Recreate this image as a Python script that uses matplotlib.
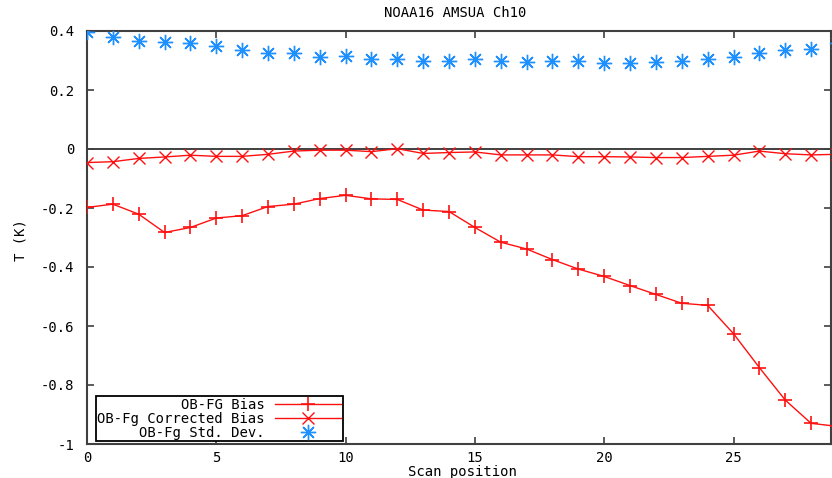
import numpy as np
import matplotlib
matplotlib.use("Agg")
import matplotlib.pyplot as plt

# Scan positions and the three series
scan_pos = list(range(30))
ob_fg_bias = [-0.198, -0.187, -0.221, -0.283, -0.266, -0.234, -0.226, -0.195, -0.187, -0.168,
              -0.157, -0.169, -0.171, -0.207, -0.212, -0.266, -0.316, -0.339, -0.375, -0.407,
              -0.432, -0.463, -0.493, -0.523, -0.530, -0.626, -0.741, -0.851, -0.930, -0.940]
ob_fg_corr_bias = [-0.046, -0.043, -0.032, -0.027, -0.021, -0.025, -0.025, -0.018, -0.007, -0.004,
                   -0.004, -0.009, 0.001, -0.015, -0.012, -0.010, -0.020, -0.020, -0.020, -0.026,
                   -0.026, -0.027, -0.029, -0.029, -0.025, -0.021, -0.007, -0.016, -0.020, -0.018]
ob_fg_std = [0.397, 0.379, 0.367, 0.364, 0.358, 0.349, 0.334, 0.325, 0.325, 0.313,
             0.316, 0.306, 0.304, 0.300, 0.297, 0.304, 0.300, 0.296, 0.299, 0.298,
             0.293, 0.290, 0.296, 0.300, 0.304, 0.311, 0.327, 0.336, 0.340, 0.360]

xticks = [0, 5, 10, 15, 20, 25]
yticks = [0.4, 0.2, 0, -0.2, -0.4, -0.6, -0.8, -1]
ytick_labels = ["0.4", "0.2", "0", "-0.2", "-0.4", "-0.6", "-0.8", "-1"]

mono = "DejaVu Sans Mono"
fs = 10

fig = plt.figure(figsize=(8.32, 4.78), dpi=100)
ax = fig.add_axes([87 / 832, 34 / 478, 744 / 832, 413 / 478])

ax.axhline(0, color="#202020", lw=1.2, zorder=1)

red = "#ff1010"
ax.plot(scan_pos, ob_fg_bias, color=red, lw=1, marker="+", ms=10, mew=1.2,
        label="OB-FG Bias", zorder=3)
ax.plot(scan_pos, ob_fg_corr_bias, color=red, lw=1, marker="x", ms=9, mew=1.0,
        label="OB-Fg Corrected Bias", zorder=3)
ax.plot(scan_pos, ob_fg_std, color="#1e90ff", lw=0, marker=(8, 2, 0), ms=11, mew=1.0,
        label="OB-Fg Std. Dev.", zorder=3)

ax.set_xlim(0, 28.77)
ax.set_ylim(-1, 0.4)
ax.set_xticks(xticks)
ax.set_xticklabels([str(t) for t in xticks])
ax.set_yticks(yticks)
ax.set_yticklabels(ytick_labels)

for lbl in ax.get_xticklabels() + ax.get_yticklabels():
    lbl.set_fontfamily(mono)
    lbl.set_fontsize(fs)
ax.tick_params(direction="in", length=5, width=1.2, color="#404040",
               top=True, right=True)
ax.tick_params(axis="y", pad=9)
ax.tick_params(axis="x", pad=5)

for sp in ax.spines.values():
    sp.set_color("#404040")
    sp.set_linewidth(1.5)

leg = ax.legend(loc="lower left", bbox_to_anchor=(0.012, 0.007), borderaxespad=0,
                markerfirst=False, fancybox=False, framealpha=1, edgecolor="black",
                prop={"family": mono, "size": fs}, handlelength=4.8,
                labelspacing=0.0, borderpad=0.1, handletextpad=0.7)
leg.get_frame().set_linewidth(1.3)

fig.text(455 / 832, 1 - 13 / 478, "NOAA16 AMSUA Ch10", ha="center", va="center",
         family=mono, fontsize=fs)
fig.text(462 / 832, 1 - 472 / 478, "Scan position", ha="center", va="center",
         family=mono, fontsize=fs)
fig.text(20 / 832, 1 - 240 / 478, "T (K)", ha="center", va="center", rotation=90,
         family=mono, fontsize=fs)

fig.savefig("out.png", dpi=100)
